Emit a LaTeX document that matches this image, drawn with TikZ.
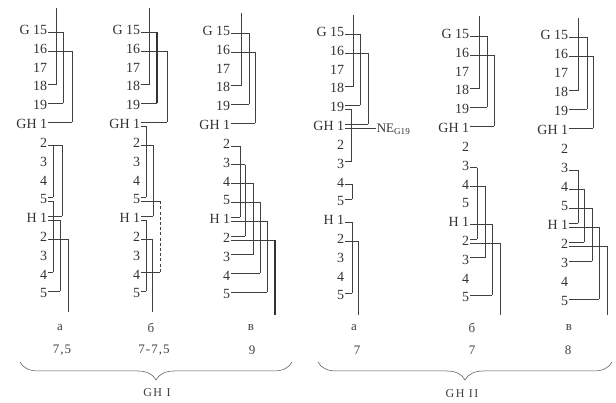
\documentclass[tikz,border=0pt]{standalone}
\usepackage{fontspec}
\setmainfont{Liberation Serif}
\usetikzlibrary{decorations.pathreplacing}
\tikzset{
  lab/.style={anchor=east, inner sep=0.6pt, font=\fontsize{14}{14}\selectfont, text=black!80},
  ln/.style={line width=0.55pt, draw=black!75},
  thk/.style={line width=1.1pt, draw=black!80},
  dsh/.style={line width=0.55pt, draw=black!75, dash pattern=on 3pt off 2.2pt},
  bl/.style={inner sep=0pt, font=\fontsize{13}{13}\selectfont\addfontfeatures{LetterSpace=8}, text=black!75},
  brc/.style={line width=0.5pt, draw=black!70, decorate, decoration={brace, mirror, amplitude=18pt}}
}
% #1 extra style, #2 column, #3 from row, #4 to row, #5 x of the vertical
\newcommand\brk[5][]{%
  \coordinate (A) at ([yshift=-2pt]c#2r#3.east);
  \coordinate (B) at ([yshift=2pt]c#2r#4.east);
  \coordinate (X) at (#5,0);
  \draw[ln] (A) -- (A -| X);
  \draw[ln,#1] (A -| X) -- (B -| X);
  \draw[ln] (B -| X) -- (B);
}
% #1 extra style, #2 column, #3 x, #4 y of top end
\newcommand\topln[4][]{%
  \coordinate (c#2top) at (#3,#4);
  \draw[ln,#1] ([yshift=2pt]c#2r3.east) -| (c#2top);
}
\newcommand\botln[4][]{%
  \coordinate (c#2bot) at (#3,#4);
  \coordinate (c#2bs) at ([yshift=-2pt]c#2r11.east);
  \draw[ln] (c#2bs) -- (c#2bs -| c#2bot);
  \draw[ln,#1] (c#2bs -| c#2bot) -- (c#2bot);
}
\begin{document}
\begin{tikzpicture}[x=1pt,y=-1pt]
\useasboundingbox (0,0) rectangle (616,403);
\foreach \c/\lx/\yo/\dy in {1/48/30/18.8, 2/141/30/18.8, 3/231/31/18.8, 4/345/32/18.8, 5/470/34/18.8, 6/569/35/19.0} {
  \foreach \r/\t in {0/G 15, 1/16, 2/17, 3/18, 4/19, 5/GH 1, 6/2, 7/3, 8/4, 9/5, 10/H 1, 11/2, 12/3, 13/4, 14/5} {
    \node[lab] (c\c r\r) at (\lx, {\yo+\dy*\r}) {\t};
  }
}
% column 1
\topln{1}{56}{8}
\brk{1}{0}{4}{63}
\brk{1}{1}{5}{72}
\brk{1}{6}{9}{53}
\brk{1}{6}{10}{62}
\brk{1}{9}{13}{53}
\brk{1}{10}{14}{60}
\botln{1}{68}{312}
% column 2
\topln{2}{149}{8}
\brk[thk]{2}{0}{4}{157}
\brk{2}{1}{5}{167}
\brk{2}{5}{9}{146}
\brk{2}{6}{10}{153}
\brk[dsh]{2}{9}{13}{160}
\brk{2}{10}{14}{146}
\botln{2}{152}{312}
% column 3
\topln{3}{241}{13}
\brk{3}{0}{4}{249}
\brk{3}{1}{5}{255}
\brk{3}{6}{10}{240}
\brk{3}{7}{11}{245}
\brk{3}{8}{12}{253}
\brk{3}{9}{13}{260}
\brk{3}{10}{14}{267}
\botln[thk]{3}{275}{315}
% column 4
\topln{4}{353}{15}
\brk{4}{0}{4}{360}
\brk{4}{1}{5}{368}
\brk{4}{4}{7}{351}
\node[anchor=west, inner sep=0.6pt, font=\fontsize{13}{13}\selectfont, text=black!80] (ne) at (376,129) {NE\textsubscript{G19}};
\coordinate (gh4) at ([yshift=-2pt]c4r5.east);
\draw[ln] (gh4) -- (gh4 -| ne.west);
\brk{4}{8}{9}{352}
\brk{4}{10}{14}{352}
\botln{4}{358}{315}
% column 5
\topln{5}{479}{16}
\brk{5}{0}{4}{487}
\brk{5}{1}{5}{494}
\brk{5}{7}{11}{477}
\brk{5}{8}{12}{485}
\brk{5}{10}{14}{492}
\botln{5}{500}{315}
% column 6
\topln{6}{578}{18}
\brk{6}{0}{4}{587}
\brk{6}{1}{5}{593}
\brk{6}{7}{10}{578}
\brk{6}{8}{11}{584}
\brk{6}{9}{12}{592}
\brk{6}{10}{14}{599}
\botln{6}{607}{315}
% bottom captions
\node[bl] (l1) at (60,328) {а};
\node[bl] (l2) at (151,328) {б};
\node[bl] (l3) at (251,328) {в};
\node[bl] (l4) at (354,328) {а};
\node[bl] (l5) at (472,328) {б};
\node[bl] (l6) at (569,328) {в};
\node[bl] (n1) at (62,350) {7,5};
\node[bl] (n2) at (154,350) {7-7,5};
\node[bl] (n3) at (252,350) {9};
\node[bl] (n4) at (357,350) {7};
\node[bl] (n5) at (472,350) {7};
\node[bl] (n6) at (568,350) {8};
\coordinate (b1l) at (20,362);
\coordinate (b1r) at (292,362);
\coordinate (b2l) at (318,362);
\coordinate (b2r) at (612,362);
\draw[brc] (b1l) -- (b1r);
\draw[brc] (b2l) -- (b2r);
\node[bl, font=\fontsize{12}{12}\selectfont\addfontfeatures{LetterSpace=12}] (g1) at (157,393) {GH I};
\node[bl, font=\fontsize{12}{12}\selectfont\addfontfeatures{LetterSpace=12}] (g2) at (462,394) {GH II};
\end{tikzpicture}
\end{document}
